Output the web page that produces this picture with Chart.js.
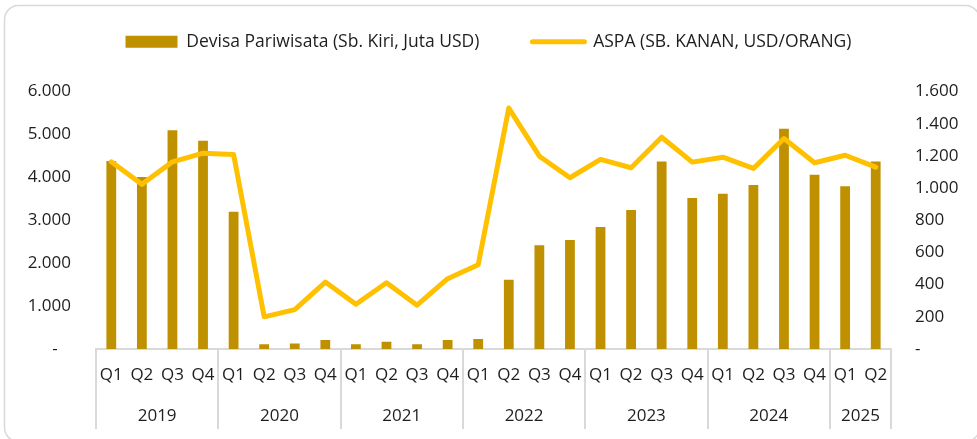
<!DOCTYPE html>
<html>
<head>
<meta charset="utf-8">
<script src="https://cdn.jsdelivr.net/npm/chart.js@4.4.1/dist/chart.umd.min.js"></script>
<style>
  html, body { margin: 0; padding: 0; background: #ffffff; }
  #wrap { position: relative; width: 977px; height: 439px; }
</style>
</head>
<body>
<div id="wrap"><canvas id="c" width="977" height="439"></canvas></div>
<script>
// ---- Data ----
const quarters = ['Q1','Q2','Q3','Q4','Q1','Q2','Q3','Q4','Q1','Q2','Q3','Q4','Q1','Q2','Q3','Q4','Q1','Q2','Q3','Q4','Q1','Q2','Q3','Q4','Q1','Q2'];
const years = ['2019','2020','2021','2022','2023','2024','2025'];
const yearSpans = [4,4,4,4,4,4,2];
const devisa = [4380,4005,5095,4855,3200,108,131,208,108,170,108,208,231,1613,2415,2540,2840,3240,4367,3520,3620,3820,5130,4060,3790,4367];
const aspa = [1163,1023,1163,1217,1209,200,245,416,278,412,272,437,523,1497,1198,1064,1178,1126,1316,1161,1192,1122,1308,1157,1204,1130];
const leftTicks = ['-   ','1.000','2.000','3.000','4.000','5.000','6.000'];
const rightTicks = ['-','200','400','600','800','1.000','1.200','1.400','1.600'];
const seriesNames = ['Devisa Pariwisata (Sb. Kiri, Juta USD)','ASPA (SB. KANAN, USD/ORANG)'];

const BAR = '#BF9000', LINE = '#FFC000', TXT = '#1e1e1e', GRID = '#D9D9D9';
const FONT = "'Open Sans', 'Noto Sans', sans-serif";

const frame = {
  id: 'frame',
  beforeLayout(chart) {
    const lg = chart.legend;
    if (lg && !lg._patched) {
      const orig = lg.fit;
      lg.fit = function () { orig.call(this); this.height += 31; };
      lg._patched = true;
    }
  },
  beforeDraw(chart) {
    const ctx = chart.ctx;
    ctx.save();
    ctx.strokeStyle = GRID;
    ctx.lineWidth = 1.5;
    ctx.beginPath();
    ctx.roundRect(4.5, 5.5, 975, 436, 14);
    ctx.stroke();
    ctx.restore();
  },
  afterDraw(chart) {
    const ctx = chart.ctx;
    const xs = chart.scales.x;
    const n = quarters.length;
    const w = (xs.right - xs.left) / n;
    const top = chart.chartArea.bottom;
    ctx.save();
    ctx.strokeStyle = GRID;
    ctx.lineWidth = 2;
    let k = 0;
    const bounds = [0];
    yearSpans.forEach(s => { k += s; bounds.push(k); });
    bounds.forEach(b => {
      const x = Math.round(xs.left + b * w);
      ctx.beginPath();
      ctx.moveTo(x, top);
      ctx.lineTo(x, 429);
      ctx.stroke();
    });
    ctx.fillStyle = TXT;
    ctx.font = "17px " + FONT;
    ctx.textAlign = 'center';
    ctx.textBaseline = 'middle';
    years.forEach((y, i) => {
      const cx = xs.left + (bounds[i] + bounds[i + 1]) / 2 * w;
      ctx.fillText(y, cx, 416);
    });
    ctx.restore();
  }
};

new Chart(document.getElementById('c'), {
  data: {
    labels: quarters,
    datasets: [
      {
        type: 'line', label: seriesNames[1], data: aspa, yAxisID: 'y1', order: 0,
        borderColor: LINE, backgroundColor: LINE, borderWidth: 5, pointRadius: 0,
        borderJoinStyle: 'round', borderCapStyle: 'round', tension: 0
      },
      {
        type: 'bar', label: seriesNames[0], data: devisa, yAxisID: 'y', order: 1,
        backgroundColor: BAR, borderWidth: 0, barPercentage: 0.32, categoryPercentage: 1
      }
    ]
  },
  options: {
    responsive: false,
    animation: false,
    events: [],
    layout: { padding: { top: -20, left: 0, right: 0, bottom: 0 } },
    plugins: {
      tooltip: { enabled: false },
      legend: {
        display: true, position: 'top',
        labels: {
          font: { family: FONT, size: 17.5 }, color: TXT,
          usePointStyle: true, pointStyleWidth: 52, boxHeight: 12, padding: 53,
          generateLabels(chart) {
            return [
              { text: seriesNames[0], fillStyle: BAR, strokeStyle: BAR, lineWidth: 0, pointStyle: 'rect', datasetIndex: 1, fontColor: TXT },
              { text: seriesNames[1], fillStyle: LINE, strokeStyle: LINE, lineWidth: 5, pointStyle: 'line', lineCap: 'round', datasetIndex: 0, fontColor: TXT }
            ];
          }
        }
      }
    },
    scales: {
      x: {
        type: 'category', position: 'bottom', offset: true,
        grid: { display: false, drawTicks: false },
        border: { display: true, color: GRID, width: 2 },
        ticks: { font: { family: FONT, size: 17 }, color: TXT, padding: 16, autoSkip: false, maxRotation: 0, minRotation: 0 },
        afterFit(s) { s.height = 90; }
      },
      y: {
        position: 'left', min: 0, max: 6000,
        grid: { display: false, drawTicks: false },
        border: { display: false },
        ticks: { stepSize: 1000, font: { family: FONT, size: 17 }, color: TXT, padding: 25,
          callback: (v) => leftTicks[Math.round(v / 1000)] },
        afterFit(s) { s.width = 96; }
      },
      y1: {
        position: 'right', min: 0, max: 1600,
        grid: { display: false, drawTicks: false },
        border: { display: false },
        ticks: { stepSize: 200, font: { family: FONT, size: 17 }, color: TXT, padding: 24,
          callback: (v) => rightTicks[Math.round(v / 200)] },
        afterFit(s) { s.width = 86; }
      }
    }
  },
  plugins: [frame]
});
</script>
</body>
</html>
